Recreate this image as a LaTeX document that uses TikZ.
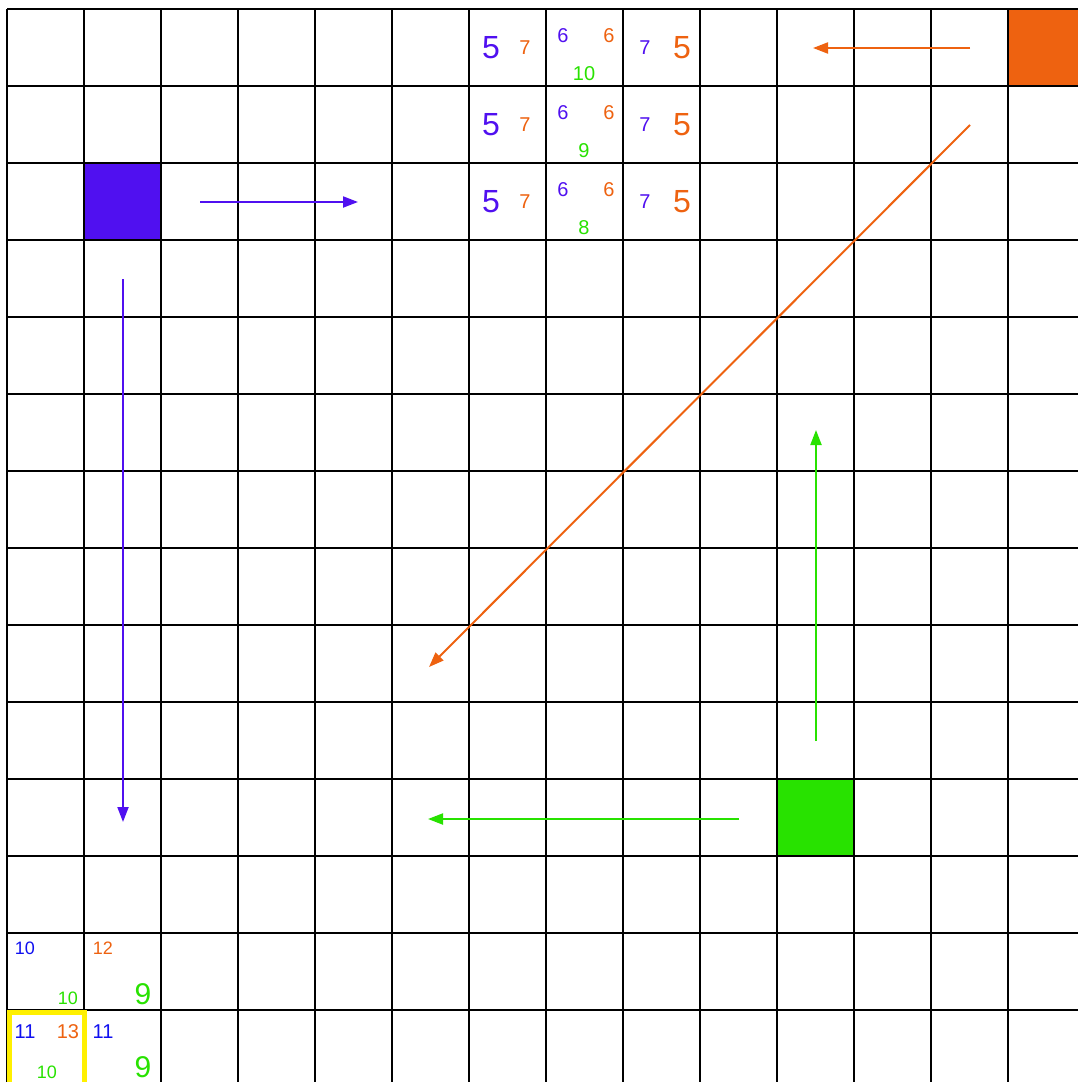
\documentclass[tikz,border=0pt]{standalone}
\usepackage{fontspec}
\setmainfont{Liberation Sans}
\usetikzlibrary{arrows.meta}
\definecolor{vio}{RGB}{80,16,240}
\definecolor{org}{RGB}{238,98,16}
\definecolor{grn}{RGB}{40,226,0}
\definecolor{blu}{RGB}{16,16,240}
\definecolor{yel}{RGB}{255,240,0}
\begin{document}
\begin{tikzpicture}[x=1pt,y=-1pt,
  gridline/.style={black,line width=1.5pt},
  arr/.style={line width=2pt,-{Triangle[length=15pt,width=11pt]}},
  big/.style={font=\fontsize{32}{32}\selectfont,inner sep=0pt},
  sm/.style={font=\fontsize{20}{20}\selectfont,inner sep=0pt},
  tiny/.style={font=\fontsize{18}{18}\selectfont,inner sep=0pt},
  bigb/.style={font=\fontsize{30}{30}\selectfont,inner sep=0pt}]
\useasboundingbox (0,0) rectangle (1078,1082);
\fill[white] (0,0) rectangle (1078,1082);
% filled squares
\fill[vio] (84,163) rectangle (161,240);
\fill[org] (1008,9) rectangle (1078,86);
\fill[grn] (777,779) rectangle (854,856);
% grid
\foreach \i in {0,...,13} \draw[gridline] ({7+77*\i},9) -- ({7+77*\i},1082);
\foreach \j in {0,...,13} \draw[gridline] (7,{9+77*\j}) -- (1078,{9+77*\j});
% top numbers
\foreach \r/\g in {0/10,1/9,2/8}{
  \node[big,text=vio] (a\r) at (491,{48+77*\r}) {5};
  \node[sm,text=org] (b\r) at (525,{48+77*\r}) {7};
  \node[sm,text=vio] (c\r) at (563,{36+77*\r}) {6};
  \node[sm,text=org] (d\r) at (609,{36+77*\r}) {6};
  \node[sm,text=grn] (e\r) at (584,{74+77*\r}) {\g};
  \node[sm,text=vio] (f\r) at (645,{48+77*\r}) {7};
  \node[big,text=org] (g\r) at (682,{48+77*\r}) {5};
}
% bottom-left numbers
\node[tiny,text=blu] (h1) at (25,948) {10};
\node[tiny,text=grn] (h2) at (68,998) {10};
\node[tiny,text=org] (h3) at (103,948) {12};
\node[bigb,text=grn] (h4) at (143,994) {9};
\node[sm,text=blu] (i1) at (25,1032) {11};
\node[sm,text=org] (i2) at (68,1032) {13};
\node[sm,text=blu] (i3) at (103,1032) {11};
\node[tiny,text=grn] (i4) at (47,1072) {10};
\node[bigb,text=grn] (i5) at (143,1067) {9};
% yellow highlight
\draw[yel,line width=5pt] (9.5,1090) -- (9.5,1012) -- (84.5,1012) -- (84.5,1090);
% arrow endpoints
\coordinate (o1s) at (970,48);   \coordinate (o1e) at (813,48);
\coordinate (o2s) at (970,125);  \coordinate (o2e) at (429,667);
\coordinate (v1s) at (200,202);  \coordinate (v1e) at (358,202);
\coordinate (v2s) at (123,279);  \coordinate (v2e) at (123,822);
\coordinate (g1s) at (816,741);  \coordinate (g1e) at (816,430);
\coordinate (g2s) at (739,819);  \coordinate (g2e) at (428,819);
\draw[arr,org] (o1s) -- (o1e);
\draw[arr,org] (o2s) -- (o2e);
\draw[arr,vio] (v1s) -- (v1e);
\draw[arr,vio] (v2s) -- (v2e);
\draw[arr,grn] (g1s) -- (g1e);
\draw[arr,grn] (g2s) -- (g2e);
\end{tikzpicture}
\end{document}
